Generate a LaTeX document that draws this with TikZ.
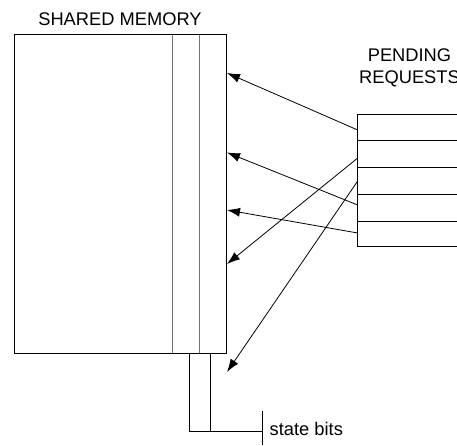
\documentclass[tikz,border=0pt]{standalone}
\usepackage{fontspec}
\setmainfont{Liberation Sans}
\usetikzlibrary{arrows.meta}
\begin{document}
\begin{tikzpicture}[x=1pt,y=-1pt,
  outline/.style={draw=black,line width=1pt},
  divider/.style={draw=black!55,line width=0.9pt},
  req/.style={draw=black,line width=0.8pt,-{Latex[length=13pt,width=9pt]}},
  label/.style={font=\fontsize{18.3}{22.7}\selectfont,inner sep=0pt}]
\clip (0,0) rectangle (457,446);

% shared memory block with its two state-bit columns
\draw[outline] (14,35) rectangle (226,353);
\draw[divider] (172.7,35) -- (172.7,353);
\draw[divider] (199.3,35) -- (199.3,353);
\node[label,anchor=base] (memtitle) at (120,26) {SHARED MEMORY};

% state bits callout
\draw[outline] (189.3,353) -- (189.3,431) -- (262.7,431);
\draw[outline] (210,353) -- (210,431);
\draw[outline] (262.7,411) -- (262.7,445);
\node[label,anchor=base west] (bits) at (269.5,435.5) {state bits};

% pending request queue
\draw[outline] (470,115) -- (357.7,115) -- (357.7,246.7) -- (470,246.7);
\foreach \y in {141,167.7,194.3,221}
  \draw[outline] (357.7,\y) -- (470,\y);
\node[label,align=center,anchor=base] (pendtitle) at (409.5,84) {PENDING\\REQUESTS};

% request sources on the queue and targets on the memory edge
\coordinate (r1) at (357.7,130);
\coordinate (r2) at (357.7,158);
\coordinate (r3) at (357.7,181);
\coordinate (r4) at (357.7,205);
\coordinate (r5) at (357.7,233);
\coordinate (m1) at (227,73);
\coordinate (m2) at (227,152.5);
\coordinate (m3) at (227,210);
\coordinate (m4) at (227,264);
\coordinate (m5) at (227,372);

\draw[req] (r1) -- (m1);
\draw[req] (r4) -- (m2);
\draw[req] (r5) -- (m3);
\draw[req] (r2) -- (m4);
\draw[req] (r3) -- (m5);
\end{tikzpicture}
\end{document}
